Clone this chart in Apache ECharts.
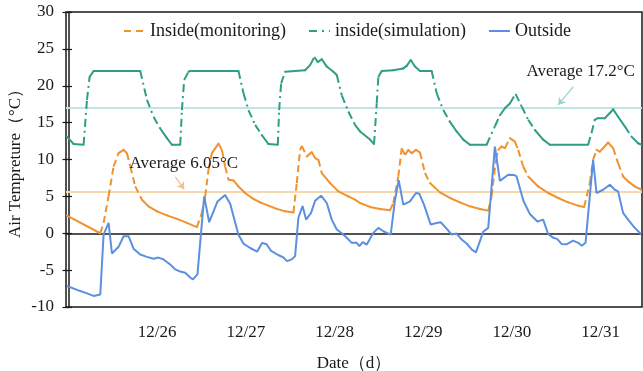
<!DOCTYPE html>
<html>
<head>
<meta charset="utf-8">
<script src="https://cdn.jsdelivr.net/npm/echarts@6/dist/echarts.min.js"></script>
<style>html,body{margin:0;padding:0;background:#fff}#c{width:643px;height:371px}</style>
</head>
<body>
<div id="c"></div>
<script>
// x values are hours counted from 12/25 00:00
const dateLabels = ['12/26', '12/27', '12/28', '12/29', '12/30', '12/31'];
const dateTicks = [24, 48, 72, 96, 120, 144];

const outsideHours = [-0.41, 3.19, 5.0, 6.79, 8.6, 9.49, 10.84, 11.76, 13.55, 14.9,
  16.25, 17.6, 19.41, 21.22, 23.01, 24.36, 25.71, 27.52, 28.88, 30.23,
  31.58, 32.93, 33.66, 34.9, 36.72, 38.07, 40.31, 42.39, 43.75, 45.99,
  47.34, 49.15, 51.05, 52.4, 53.62, 54.83, 56.73, 58.08, 59.16, 60.37,
  61.32, 62.21, 63.35, 64.29, 65.64, 66.73, 68.35, 69.89, 71.24, 72.6,
  73.95, 75.3, 76.65, 78.0, 78.71, 79.62, 80.71, 82.49, 83.84, 85.19,
  87.19, 88.36, 89.36, 90.6, 92.41, 94.03, 94.93, 96.2, 98.01, 99.63,
  100.71, 102.14, 103.69, 105.04, 106.39, 107.74, 109.1, 110.26, 112.23, 113.58,
  115.39, 116.75, 118.99, 120.61, 121.26, 123.1, 124.86, 126.89, 128.45, 129.81,
  131.16, 132.24, 133.43, 134.78, 136.57, 137.92, 138.92, 139.92, 141.97, 142.89,
  144.68, 146.49, 147.84, 148.73, 150.08, 151.44, 153.24, 155.06];
const outsideTemp = [-7.16, -7.84, -8.15, -8.5, -8.3, -0.2, 1.4, -2.74, -1.84, -0.4,
  -0.4, -2.1, -2.88, -3.2, -3.46, -3.3, -3.55, -4.23, -4.9, -5.2,
  -5.35, -6.0, -6.26, -5.58, 5.0, 1.5, 4.3, 5.2, 4.0, -0.2,
  -1.4, -2.0, -2.5, -1.3, -1.5, -2.4, -2.95, -3.25, -3.78, -3.55,
  -3.1, 2.1, 3.7, 1.85, 2.76, 4.4, 5.1, 4.1, 1.85, 0.5,
  0.0, -0.62, -1.3, -1.3, -1.76, -1.2, -1.53, 0.05, 0.73, 0.27,
  -0.18, 4.55, 7.2, 3.88, 4.32, 5.46, 5.36, 3.88, 1.18, 1.4,
  1.49, 0.73, -0.18, -0.04, -0.85, -1.39, -2.2, -2.6, 0.2, 0.73,
  11.76, 7.1, 7.93, 7.9, 7.7, 4.4, 2.6, 1.6, 1.85, -0.1,
  -0.6, -0.76, -1.45, -1.5, -1.0, -1.3, -1.7, -1.3, 9.96, 5.46,
  5.9, 6.58, 5.9, 5.68, 2.76, 1.85, 0.73, -0.18];

const monitorHours = [-0.41, 8.6, 9.49, 10.84, 12.19, 13.55, 14.9, 15.82, 16.71, 18.06,
  19.87, 21.66, 23.93, 26.63, 29.34, 32.04, 34.74, 36.1, 36.99, 37.88,
  38.8, 40.58, 41.5, 42.39, 43.29, 44.64, 45.99, 47.8, 49.61, 51.86,
  54.1, 56.37, 58.62, 60.86, 61.78, 62.67, 63.13, 64.48, 65.84, 66.73,
  67.62, 68.54, 70.78, 73.03, 75.73, 77.54, 78.9, 81.6, 84.3, 87.0,
  87.9, 89.25, 90.17, 91.06, 91.95, 92.87, 94.03, 95.12, 96.47, 97.82,
  100.52, 103.23, 105.93, 108.64, 111.34, 113.58, 114.5, 115.66, 116.29, 117.21,
  118.1, 119.45, 120.8, 121.69, 123.05, 124.4, 127.1, 129.81, 132.51, 135.21,
  137.92, 139.54, 141.08, 141.97, 142.89, 143.78, 144.68, 146.03, 147.38, 148.73,
  150.08, 151.44, 153.24, 155.06];
const monitorTemp = [2.4, 0.0, 1.4, 5.0, 9.05, 10.86, 11.3, 10.86, 9.05, 6.35,
  4.55, 3.65, 2.97, 2.43, 1.95, 1.4, 0.82, 2.76, 5.0, 8.6,
  10.86, 12.15, 11.3, 9.05, 7.26, 7.16, 6.35, 5.46, 4.78, 4.19,
  3.74, 3.3, 2.97, 2.8, 6.8, 11.3, 11.85, 10.4, 11.0, 10.2,
  9.96, 8.16, 6.8, 5.68, 5.0, 4.55, 4.1, 3.57, 3.3, 3.11,
  4.1, 7.7, 11.5, 10.6, 11.3, 10.86, 11.3, 10.95, 8.16, 6.8,
  5.54, 4.78, 4.19, 3.65, 3.3, 3.07, 5.0, 9.96, 11.3, 11.76,
  11.54, 12.9, 12.43, 11.3, 9.05, 7.7, 6.35, 5.46, 4.78, 4.19,
  3.74, 3.57, 6.8, 9.96, 11.3, 11.08, 11.54, 12.3, 11.54, 9.5,
  7.7, 7.03, 6.35, 5.9];

const simHours = [-0.41, 1.38, 4.08, 5.0, 5.71, 6.79, 19.41, 21.22, 23.01, 24.82,
  26.63, 27.98, 30.23, 30.69, 31.31, 32.47, 32.93, 45.99, 47.34, 48.69,
  50.51, 52.32, 54.1, 56.64, 57.0, 57.54, 58.62, 64.02, 65.38, 66.54,
  67.46, 68.54, 69.89, 71.68, 72.6, 73.95, 75.73, 77.54, 78.9, 81.6,
  82.68, 83.41, 83.84, 84.76, 87.9, 90.6, 91.52, 92.6, 93.76, 95.12,
  98.28, 99.63, 101.42, 103.23, 105.04, 106.83, 108.64, 113.15, 115.39, 116.75,
  118.1, 119.45, 120.99, 122.61, 124.4, 126.21, 128.45, 130.27, 140.62, 141.54,
  142.43, 143.33, 145.13, 146.49, 147.38, 148.73, 150.54, 152.35, 154.14, 155.14];
const simTemp = [13.1, 12.1, 12.0, 18.1, 21.2, 22.0, 22.0, 18.1, 15.8, 14.2,
  12.9, 12.0, 12.0, 16.7, 20.8, 21.9, 22.0, 22.0, 19.0, 16.7,
  14.7, 13.3, 12.1, 12.0, 16.7, 20.3, 21.9, 22.1, 22.8, 23.9,
  23.2, 23.6, 22.6, 21.9, 21.45, 18.7, 16.5, 14.7, 13.8, 12.7,
  12.1, 17.6, 21.2, 22.0, 22.1, 22.35, 22.7, 23.5, 22.6, 22.0,
  22.0, 19.0, 16.7, 15.1, 13.8, 12.7, 12.0, 12.0, 14.5, 16.0,
  16.95, 17.6, 18.9, 17.2, 15.4, 14.0, 12.7, 12.0, 12.0, 13.6,
  15.4, 15.6, 15.6, 16.3, 16.8, 15.8, 14.5, 13.1, 12.2, 12.0];

// average reference lines (as drawn) and their labels
const avgSimLine = 16.95;
const avgMonLine = 5.64;
const avgSimText = 'Average 17.2°C';
const avgMonText = 'Average 6.05°C';

const FONT = "'Liberation Serif', 'Times New Roman', serif";
const TXT = '#1a1a1a';
const C_MON = '#F0922E', C_SIM = '#2E9E84', C_OUT = '#5B8FE0';
const X_MIN = -0.68, X_MAX = 155.2;

function pairs(h, v) { return h.map((x, i) => [x, v[i]]); }
function segs(h, v) {
  const out = [];
  for (let i = 0; i < h.length - 1; i++) out.push([h[i], v[i], h[i + 1], v[i + 1]]);
  return out;
}
function segRenderer(color, dash) {
  return function (params, api) {
    const a = api.coord([api.value(0), api.value(1)]);
    const b = api.coord([api.value(2), api.value(3)]);
    const dx = Math.abs(b[0] - a[0]) || 0.001;
    const steep = Math.abs(b[1] - a[1]) / dx > 1.5;
    return {
      type: 'line',
      shape: { x1: a[0], y1: a[1], x2: b[0], y2: b[1] },
      style: { stroke: color, lineWidth: 2, lineDash: steep ? dash : null, lineCap: steep ? 'butt' : 'round', fill: null }
    };
  };
}

const chart = echarts.init(document.getElementById('c'), null, { renderer: 'canvas' });
chart.setOption({
  animation: false,
  backgroundColor: '#fff',
  textStyle: { fontFamily: FONT, color: TXT },
  grid: { left: 66, right: 1, top: 12, bottom: 64, containLabel: false, outerBoundsMode: 'none',
    show: true, borderColor: TXT, borderWidth: 1.5, backgroundColor: 'transparent' },
  legend: {
    data: ['Inside(monitoring)', 'inside(simulation)', 'Outside'],
    left: 118, top: 17, itemWidth: 21, itemHeight: 10, itemGap: 22,
    itemStyle: { opacity: 0 },
    textStyle: { fontFamily: FONT, fontSize: 18, color: TXT }
  },
  xAxis: {
    type: 'value', min: X_MIN, max: X_MAX,
    name: 'Date（d）', nameLocation: 'middle', nameGap: 48, nameMoveOverlap: false,
    nameTextStyle: { fontFamily: FONT, fontSize: 17, color: TXT },
    axisLine: { show: true, lineStyle: { color: TXT, width: 1.5 } },
    axisTick: { show: false },
    splitLine: { show: false },
    axisLabel: {
      customValues: dateTicks, margin: 17, fontFamily: FONT, fontSize: 17, color: TXT,
      formatter: v => dateLabels[dateTicks.indexOf(Math.round(v))] || ''
    }
  },
  yAxis: [{
    type: 'value', min: -10, max: 30, interval: 5,
    name: 'Air Tempreture（°C）', nameLocation: 'middle', nameGap: 42, nameMoveOverlap: false,
    nameTextStyle: { fontFamily: FONT, fontSize: 17, color: TXT },
    axisLine: { show: true, lineStyle: { color: TXT, width: 1.5 } },
    axisTick: { show: true, inside: false, length: 6, lineStyle: { color: TXT, width: 1.2 } },
    splitLine: { show: false },
    axisLabel: { margin: 12, fontFamily: FONT, fontSize: 17, color: TXT }
  }, {
    type: 'value', min: -10, max: 30, interval: 5, position: 'left',
    axisLine: { show: false },
    axisTick: { show: true, inside: true, length: 6, lineStyle: { color: TXT, width: 1.2 } },
    splitLine: { show: false },
    axisLabel: { show: false }
  }],
  series: [
    { name: 'Inside(monitoring)', type: 'line', data: [], symbol: 'none', lineStyle: { color: C_MON, width: 2, type: [7, 5] }, itemStyle: { color: C_MON } },
    { name: 'inside(simulation)', type: 'line', data: [], symbol: 'none', lineStyle: { color: C_SIM, width: 2, type: [8, 5, 2, 5] }, itemStyle: { color: C_SIM } },
    {
      name: 'Outside', type: 'line', data: pairs(outsideHours, outsideTemp), symbol: 'none', z: 4,
      lineStyle: { color: C_OUT, width: 2 }, itemStyle: { color: C_OUT },
      markLine: {
        silent: true, symbol: 'none', label: { show: false }, z: 1,
        data: [
          [{ coord: [X_MIN, avgSimLine], symbol: 'none', lineStyle: { color: '#c2e6df', width: 2, type: 'solid' } }, { coord: [X_MAX, avgSimLine], symbol: 'none' }],
          [{ coord: [X_MIN, avgMonLine], symbol: 'none', lineStyle: { color: '#f7d8ae', width: 2, type: 'solid' } }, { coord: [X_MAX, avgMonLine], symbol: 'none' }],
          [{ coord: [28.9, 7.66], symbol: 'none', lineStyle: { color: '#f0c38e', width: 1.3, type: 'solid' } }, { coord: [31.3, 5.95], symbol: 'arrow', symbolSize: 7 }],
          [{ coord: [136.6, 19.86], symbol: 'none', lineStyle: { color: '#9ed6cb', width: 1.3, type: 'solid' } }, { coord: [132.5, 17.4], symbol: 'arrow', symbolSize: 7 }]
        ]
      },
      markPoint: {
        silent: true, symbol: 'circle', symbolSize: 1, itemStyle: { color: 'rgba(0,0,0,0)' },
        label: { show: true, position: 'inside', fontFamily: FONT, fontSize: 17, color: TXT },
        data: [
          { coord: [31.2, 9.5], label: { formatter: avgMonText } },
          { coord: [138.6, 21.9], label: { formatter: avgSimText } }
        ]
      }
    },
    {
      name: 'seg-monitoring', type: 'custom', clip: true, z: 3,
      data: segs(monitorHours, monitorTemp), encode: { x: [0, 2], y: [1, 3] },
      renderItem: segRenderer(C_MON, [7, 4])
    },
    {
      name: 'seg-simulation', type: 'custom', clip: true, z: 3,
      data: segs(simHours, simTemp), encode: { x: [0, 2], y: [1, 3] },
      renderItem: segRenderer(C_SIM, [8, 4, 2, 4])
    }
  ]
});
</script>
</body>
</html>
